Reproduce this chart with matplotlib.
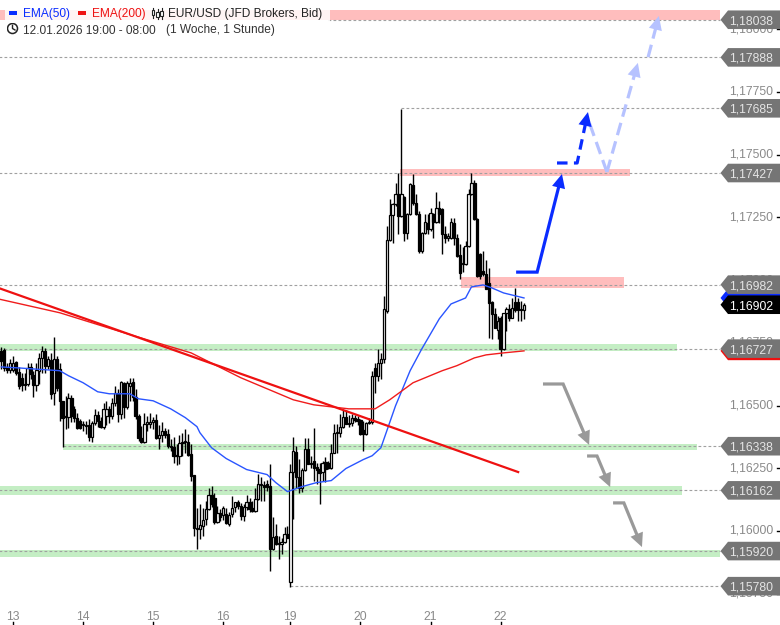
import matplotlib
matplotlib.use("Agg")
import matplotlib.pyplot as plt
from matplotlib.patches import Polygon, Rectangle, Circle, FancyArrowPatch

# EUR/USD 1h candles, 12.01.2026 19:00 - 22.01.2026 08:00
opens = [
    1.16718, 1.16718, 1.16722, 1.16654, 1.16642, 1.16642, 1.16674, 1.16635, 1.16611, 1.16583,
    1.16587, 1.16654, 1.16623, 1.16583, 1.16639, 1.16690, 1.16718, 1.16658, 1.16682, 1.16551,
    1.16686, 1.16646, 1.16519, 1.16456, 1.16456, 1.16531, 1.16487, 1.16452, 1.16440, 1.16424,
    1.16420, 1.16424, 1.16376, 1.16432, 1.16464, 1.16440, 1.16416, 1.16460, 1.16487, 1.16460,
    1.16511, 1.16551, 1.16468, 1.16591, 1.16495, 1.16579, 1.16595, 1.16535, 1.16460, 1.16372,
    1.16356, 1.16428, 1.16428, 1.16436, 1.16444, 1.16372, 1.16384, 1.16400, 1.16388, 1.16340,
    1.16336, 1.16300, 1.16300, 1.16352, 1.16356, 1.16356, 1.16308, 1.16225, 1.16010, 1.16006,
    1.16018, 1.16046, 1.16086, 1.16145, 1.16133, 1.16034, 1.16070, 1.16062, 1.16066, 1.16026,
    1.16066, 1.16094, 1.16117, 1.16101, 1.16058, 1.16094, 1.16117, 1.16090, 1.16078, 1.16129,
    1.16185, 1.16185, 1.16189, 1.16181, 1.15930, 1.15982, 1.15950, 1.15950, 1.15958, 1.15990,
    1.15795, 1.16237, 1.16316, 1.16217, 1.16173, 1.16245, 1.16328, 1.16269, 1.16281, 1.16257,
    1.16249, 1.16237, 1.16277, 1.16273, 1.16253, 1.16312, 1.16392, 1.16392, 1.16416, 1.16456,
    1.16428, 1.16432, 1.16452, 1.16448, 1.16444, 1.16404, 1.16388, 1.16432, 1.16436, 1.16651,
    1.16619, 1.16670, 1.16686, 1.16878, 1.17160, 1.17260, 1.17303, 1.17343, 1.17256, 1.17331,
    1.17188, 1.17264, 1.17379, 1.17307, 1.17264, 1.17116, 1.17188, 1.17228, 1.17204, 1.17264,
    1.17232, 1.17288, 1.17284, 1.17184, 1.17168, 1.17168, 1.17228, 1.17168, 1.17100, 1.17065,
    1.17065, 1.17136, 1.17343, 1.17387, 1.17244, 1.17104, 1.17037, 1.17025, 1.16989, 1.16913,
    1.16866, 1.16802, 1.16850, 1.16726, 1.16870, 1.16886, 1.16850, 1.16913, 1.16913, 1.16886,
    1.16882,
]
closes = [
    1.16678, 1.16678, 1.16650, 1.16642, 1.16670, 1.16670, 1.16631, 1.16579, 1.16583, 1.16587,
    1.16650, 1.16627, 1.16583, 1.16642, 1.16690, 1.16718, 1.16658, 1.16686, 1.16547, 1.16686,
    1.16571, 1.16519, 1.16452, 1.16460, 1.16531, 1.16460, 1.16452, 1.16412, 1.16412, 1.16428,
    1.16424, 1.16376, 1.16432, 1.16464, 1.16440, 1.16416, 1.16487, 1.16487, 1.16460, 1.16511,
    1.16551, 1.16468, 1.16595, 1.16495, 1.16591, 1.16591, 1.16535, 1.16460, 1.16372, 1.16356,
    1.16428, 1.16436, 1.16436, 1.16444, 1.16372, 1.16384, 1.16400, 1.16384, 1.16340, 1.16336,
    1.16300, 1.16304, 1.16352, 1.16356, 1.16360, 1.16304, 1.16221, 1.16010, 1.16006, 1.16022,
    1.16042, 1.16086, 1.16145, 1.16109, 1.16034, 1.16070, 1.16054, 1.16090, 1.16030, 1.16062,
    1.16090, 1.16117, 1.16101, 1.16058, 1.16094, 1.16117, 1.16086, 1.16078, 1.16129, 1.16189,
    1.16189, 1.16177, 1.16177, 1.15930, 1.15978, 1.15950, 1.15954, 1.15958, 1.15990, 1.15974,
    1.16237, 1.16320, 1.16217, 1.16173, 1.16245, 1.16328, 1.16269, 1.16273, 1.16253, 1.16245,
    1.16233, 1.16273, 1.16249, 1.16253, 1.16312, 1.16392, 1.16396, 1.16416, 1.16456, 1.16428,
    1.16432, 1.16452, 1.16444, 1.16440, 1.16388, 1.16388, 1.16432, 1.16436, 1.16619, 1.16619,
    1.16670, 1.16686, 1.16886, 1.17160, 1.17260, 1.17303, 1.17343, 1.17256, 1.17343, 1.17188,
    1.17264, 1.17383, 1.17307, 1.17264, 1.17116, 1.17188, 1.17232, 1.17204, 1.17268, 1.17232,
    1.17288, 1.17264, 1.17184, 1.17168, 1.17176, 1.17232, 1.17168, 1.17096, 1.17029, 1.17069,
    1.17136, 1.17343, 1.17387, 1.17244, 1.17017, 1.17017, 1.17025, 1.16965, 1.16909, 1.16866,
    1.16810, 1.16838, 1.16726, 1.16870, 1.16886, 1.16850, 1.16890, 1.16882, 1.16882, 1.16882,
    1.16901,
]
highs = [
    1.16730, 1.16734, 1.16730, 1.16670, 1.16686, 1.16698, 1.16678, 1.16654, 1.16631, 1.16631,
    1.16670, 1.16670, 1.16639, 1.16670, 1.16710, 1.16738, 1.16730, 1.16698, 1.16710, 1.16774,
    1.16698, 1.16670, 1.16519, 1.16539, 1.16551, 1.16543, 1.16499, 1.16472, 1.16448, 1.16440,
    1.16440, 1.16448, 1.16440, 1.16487, 1.16480, 1.16456, 1.16511, 1.16519, 1.16499, 1.16531,
    1.16579, 1.16567, 1.16599, 1.16595, 1.16599, 1.16611, 1.16611, 1.16567, 1.16468, 1.16420,
    1.16472, 1.16460, 1.16472, 1.16456, 1.16468, 1.16424, 1.16436, 1.16412, 1.16408, 1.16368,
    1.16376, 1.16348, 1.16384, 1.16392, 1.16408, 1.16388, 1.16348, 1.16225, 1.16093, 1.16109,
    1.16090, 1.16121, 1.16173, 1.16181, 1.16153, 1.16101, 1.16086, 1.16101, 1.16090, 1.16074,
    1.16141, 1.16117, 1.16125, 1.16113, 1.16109, 1.16145, 1.16133, 1.16121, 1.16173, 1.16229,
    1.16217, 1.16201, 1.16205, 1.16269, 1.16054, 1.16026, 1.15982, 1.15974, 1.16014, 1.16018,
    1.16269, 1.16376, 1.16340, 1.16289, 1.16253, 1.16372, 1.16372, 1.16300, 1.16412, 1.16273,
    1.16273, 1.16281, 1.16293, 1.16281, 1.16348, 1.16428, 1.16428, 1.16468, 1.16484, 1.16484,
    1.16464, 1.16468, 1.16464, 1.16460, 1.16448, 1.16440, 1.16436, 1.16452, 1.16639, 1.16670,
    1.16726, 1.16710, 1.16937, 1.17216, 1.17323, 1.17307, 1.17387, 1.17427, 1.17682, 1.17335,
    1.17268, 1.17387, 1.17423, 1.17343, 1.17276, 1.17192, 1.17264, 1.17264, 1.17288, 1.17268,
    1.17351, 1.17315, 1.17288, 1.17216, 1.17188, 1.17248, 1.17248, 1.17184, 1.17144, 1.17132,
    1.17156, 1.17363, 1.17427, 1.17399, 1.17248, 1.17108, 1.17116, 1.17081, 1.17049, 1.16917,
    1.16890, 1.16858, 1.16858, 1.16870, 1.16894, 1.16905, 1.16929, 1.16969, 1.16929, 1.16917,
    1.16909,
]
lows = [
    1.16658, 1.16646, 1.16639, 1.16631, 1.16631, 1.16635, 1.16623, 1.16567, 1.16559, 1.16563,
    1.16579, 1.16607, 1.16535, 1.16559, 1.16587, 1.16631, 1.16631, 1.16646, 1.16527, 1.16503,
    1.16559, 1.16440, 1.16336, 1.16408, 1.16412, 1.16436, 1.16436, 1.16408, 1.16408, 1.16400,
    1.16388, 1.16360, 1.16356, 1.16424, 1.16416, 1.16412, 1.16408, 1.16424, 1.16432, 1.16448,
    1.16499, 1.16436, 1.16448, 1.16452, 1.16487, 1.16519, 1.16519, 1.16448, 1.16360, 1.16352,
    1.16352, 1.16400, 1.16412, 1.16408, 1.16368, 1.16328, 1.16356, 1.16372, 1.16332, 1.16320,
    1.16273, 1.16265, 1.16269, 1.16300, 1.16312, 1.16300, 1.16201, 1.15982, 1.15930, 1.15970,
    1.15982, 1.16022, 1.16082, 1.16097, 1.16026, 1.16030, 1.16038, 1.16042, 1.16026, 1.16018,
    1.16054, 1.16074, 1.16086, 1.16042, 1.16038, 1.16082, 1.16074, 1.16074, 1.16074, 1.16125,
    1.16121, 1.16121, 1.16161, 1.15839, 1.15926, 1.15946, 1.15890, 1.15910, 1.15954, 1.15974,
    1.15775, 1.16046, 1.16173, 1.16153, 1.16157, 1.16241, 1.16269, 1.16253, 1.16201, 1.16189,
    1.16109, 1.16201, 1.16197, 1.16249, 1.16249, 1.16312, 1.16312, 1.16376, 1.16412, 1.16428,
    1.16416, 1.16420, 1.16436, 1.16424, 1.16384, 1.16320, 1.16384, 1.16428, 1.16428, 1.16551,
    1.16599, 1.16607, 1.16670, 1.16870, 1.17156, 1.17148, 1.17295, 1.17184, 1.17252, 1.17156,
    1.17164, 1.17260, 1.17299, 1.17260, 1.17108, 1.17108, 1.17184, 1.17184, 1.17196, 1.17168,
    1.17228, 1.17228, 1.17104, 1.17148, 1.17156, 1.17164, 1.17140, 1.17092, 1.17005, 1.17033,
    1.17061, 1.17132, 1.17339, 1.17240, 1.17013, 1.17005, 1.17017, 1.16965, 1.16770, 1.16766,
    1.16810, 1.16766, 1.16698, 1.16722, 1.16798, 1.16838, 1.16850, 1.16874, 1.16838, 1.16838,
    1.16846,
]

ema50_bars = [1, 7, 12, 21, 24, 29, 34, 38, 45, 48, 53, 59, 64, 68, 69, 73, 78, 85, 92, 95,
              99, 104, 109, 114, 119, 125, 128, 131, 136, 141, 145, 151, 155, 160, 162, 166,
              169, 173, 180]
ema50 = [1.16654, 1.16650, 1.16646, 1.16639, 1.16619, 1.16591, 1.16555, 1.16547, 1.16547,
         1.16527, 1.16519, 1.16487, 1.16452, 1.16416, 1.16392, 1.16332, 1.16289, 1.16245,
         1.16225, 1.16193, 1.16157, 1.16177, 1.16193, 1.16201, 1.16249, 1.16285, 1.16300,
         1.16332, 1.16499, 1.16639, 1.16726, 1.16846, 1.16905, 1.16929, 1.16973, 1.16981,
         1.16969, 1.16949, 1.16929]
ema200_bars = [0, 21, 42, 51, 66, 83, 101, 108, 120, 129, 134, 142, 152, 157, 163, 167, 173, 180]
ema200 = [1.16925, 1.16870, 1.16794, 1.16762, 1.16710, 1.16611, 1.16523, 1.16503, 1.16487,
          1.16487, 1.16523, 1.16591, 1.16639, 1.16659, 1.16690, 1.16702, 1.16710, 1.16718]

trend_bars = [0, 178]
trend_prices = [1.16969, 1.16235]

# zones: bar start, bar end, price low, price high
red_zones = [(0, 247, 1.18037, 1.18077), (137.5, 216.3, 1.17415, 1.17442),
             (158.4, 214.2, 1.16969, 1.17013)]
green_zones = [(0, 232.4, 1.16716, 1.16745), (22.1, 239.2, 1.16323, 1.16347),
               (0, 234.1, 1.16143, 1.16179), (0, 247, 1.15896, 1.15924)]

# levels: price, first bar of the dotted line
levels = [1.18038, 1.17888, 1.17685, 1.17427, 1.16982, 1.16727, 1.16338, 1.16162, 1.15920, 1.15780]
level_starts = [113, 0, 138, 0, 0, 0, 22, 0, 0, 100]
level_texts = ["1,18038", "1,17888", "1,17685", "1,17427", "1,16982",
               "1,16727", "1,16338", "1,16162", "1,15920", "1,15780"]
last_price = 1.16902
last_text = "1,16902"

price_ticks = [1.18, 1.1775, 1.175, 1.1725, 1.17, 1.1675, 1.165, 1.1625, 1.16, 1.1575]
price_labels = ["1,18000", "1,17750", "1,17500", "1,17250", "1,17000",
                "1,16750", "1,16500", "1,16250", "1,16000", "1,15750"]
day_bars = [5, 29, 53, 77, 100, 124, 148, 172]
day_labels = ["13", "14", "15", "16", "19", "20", "21", "22"]

BLUE = "#0a2cff"
LIGHT_BLUE = "#b6c2ff"
GREY = "#999999"
RED = "#ee1111"
W, H = 780, 625
PX_X = 2.92      # pixels per bar
PX_Y = 25086     # pixels per price unit


def arrow(ax, xs, ys, color, dashes=None, head=True):
    """Elbow line, by default with a filled head at the last point."""
    dx = (xs[-1] - xs[-2]) * PX_X
    dy = (ys[-1] - ys[-2]) * PX_Y
    length = (dx * dx + dy * dy) ** 0.5
    cut = 10 / length if head else 0
    line_x = list(xs[:-1]) + [xs[-1] - (xs[-1] - xs[-2]) * cut]
    line_y = list(ys[:-1]) + [ys[-1] - (ys[-1] - ys[-2]) * cut]
    line, = ax.plot(line_x, line_y, color=color, lw=2.3, zorder=6,
                    solid_joinstyle="miter", solid_capstyle="butt")
    if dashes:
        line.set_dashes(dashes)
    if head:
        tip = FancyArrowPatch((xs[-2], ys[-2]), (xs[-1], ys[-1]),
                              arrowstyle="-|>,head_length=1.0,head_width=0.48",
                              mutation_scale=10, lw=0, color=color,
                              shrinkA=0, shrinkB=0, zorder=7)
        ax.add_patch(tip)


def price_tag(ax, price, color, text=None, text_color="#e4e4e4", z=9):
    half = 9.3 / PX_Y
    pts = [(720.5 / W, price), (728 / W, price + half), (1, price + half),
           (1, price - half), (728 / W, price - half)]
    ax.add_patch(Polygon(pts, closed=True, fc=color, ec="none", zorder=z,
                         transform=ax.get_yaxis_transform(), clip_on=False))
    if text:
        ax.text(729 / W, price, text, color=text_color, fontsize=8.7, va="center_baseline",
                ha="left", zorder=z + 0.5, transform=ax.get_yaxis_transform())


def main():
    plt.rcParams["font.family"] = ["Liberation Sans", "DejaVu Sans"]
    fig = plt.figure(figsize=(W / 100, H / 100), dpi=100)
    ax = fig.add_axes([0, 0, 1, 1])
    ax.set_xlim(0.548, 267.67)
    ax.set_ylim(1.16 - 94 / PX_Y, 1.16 + 531 / PX_Y)
    ax.axis("off")

    # bands
    for x0, x1, p0, p1 in red_zones:
        ax.add_patch(Rectangle((x0, p0), x1 - x0, p1 - p0, fc="#ffbdbd", ec="none", zorder=2))
    for x0, x1, p0, p1 in green_zones:
        ax.add_patch(Rectangle((x0, p0), x1 - x0, p1 - p0, fc="#c4eec4", ec="none", zorder=2))

    # dotted levels
    for price, start in zip(levels, level_starts):
        ax.plot([start, 247], [price, price], color="#a0a0a0", lw=0.8,
                dashes=(2.5, 2), zorder=3)

    # candles
    for i in range(len(opens)):
        o, h, l, c = opens[i], highs[i], lows[i], closes[i]
        ax.plot([i, i], [l, h], color="black", lw=1, zorder=4, solid_capstyle="butt")
        body_low = min(o, c)
        up = c >= o
        ax.add_patch(Rectangle((i - 0.4, body_low), 0.8, max(abs(c - o), 0.00002),
                               fc="white" if up else "black", ec="black", lw=0.9, zorder=4.5))

    ax.plot(ema50_bars, ema50, color="#2a55ff", lw=1, zorder=5)
    ax.plot(ema200_bars, ema200, color="#f01c1c", lw=1, zorder=5)
    ax.plot(trend_bars, trend_prices, color=RED, lw=1.6, zorder=5.5)

    # scenario arrows
    arrow(ax, [208.4, 202.3], [1.17431, 1.17630], LIGHT_BLUE, dashes=(4, 2), head=False)
    arrow(ax, [208.4, 219.0], [1.17431, 1.17866], LIGHT_BLUE, dashes=(4, 2))
    arrow(ax, [222.5, 226.2], [1.17889, 1.18053], LIGHT_BLUE, dashes=(4, 2))
    arrow(ax, [177.3, 184.5, 193.0], [1.17032, 1.17032, 1.17423], BLUE)
    arrow(ax, [191.3, 198.2, 201.9], [1.17467, 1.17467, 1.17670], BLUE, dashes=(3.3, 2))
    arrow(ax, [186.5, 193.4, 202.3], [1.16586, 1.16586, 1.16343], GREY)
    arrow(ax, [201.6, 205.0, 209.5], [1.16299, 1.16299, 1.16175], GREY)
    arrow(ax, [210.5, 214.2, 220.4], [1.16112, 1.16112, 1.15936], GREY)

    # right scale
    for price, label in zip(price_ticks, price_labels):
        ax.text(729 / W, price + 1.5 / PX_Y, label, color="#8a8a8a", fontsize=8.7,
                va="center_baseline", ha="left", zorder=8, transform=ax.get_yaxis_transform())
        ax.plot([777 / W, 1], [price, price], color="black", lw=1, zorder=8,
                transform=ax.get_yaxis_transform())

    price_tag(ax, ema50[-1], BLUE, z=8.5)
    price_tag(ax, ema200[-1], RED, z=8.5)
    for price, text in zip(levels, level_texts):
        price_tag(ax, price, "#757575", text)
    price_tag(ax, last_price, "black", last_text, text_color="white", z=9.2)

    # bottom scale
    for bar, label in zip(day_bars, day_labels):
        ax.text(bar, 9.5 / H, label, color="#8a8a8a", fontsize=8.7, ha="center",
                va="center_baseline", transform=ax.get_xaxis_transform())
        ax.plot([bar, bar], [0, 3 / H], color="black", lw=1, transform=ax.get_xaxis_transform())

    # legend block top left
    def fx(px):
        return px / W

    def fy(py):
        return 1 - py / H

    ta = ax.transAxes
    ax.add_patch(Rectangle((fx(5), fy(22)), 325 / W, 14 / H, fc="white", alpha=0.85, ec="none",
                           transform=ta, zorder=10))
    ax.add_patch(Rectangle((fx(9), fy(14.5)), 8 / W, 3 / H, fc=BLUE, ec="none", transform=ta, zorder=11))
    ax.add_patch(Rectangle((fx(78), fy(14.5)), 8 / W, 3 / H, fc=RED, ec="none", transform=ta, zorder=11))
    ax.text(fx(23), fy(13), "EMA(50)", color=BLUE, fontsize=8.6, va="center_baseline",
            transform=ta, zorder=11)
    ax.text(fx(92), fy(13), "EMA(200)", color=RED, fontsize=8.6, va="center_baseline",
            transform=ta, zorder=11)
    ax.text(fx(168), fy(13), "EUR/USD (JFD Brokers, Bid)", color="#222222", fontsize=8.6,
            va="center_baseline", transform=ta, zorder=11)
    ax.text(fx(23), fy(29), "12.01.2026 19:00 - 08:00", color="#333333", fontsize=8.6,
            va="center_baseline", transform=ta, zorder=11)
    ax.text(fx(166.5), fy(29), "(1 Woche, 1 Stunde)", color="#333333", fontsize=8.6,
            va="center_baseline", transform=ta, zorder=11)

    # little candle icon
    for px, top, bottom, b0, b1 in [(153, 8, 18, 10, 15), (157.5, 9, 19, 12, 17), (161.5, 8, 19, 11, 16)]:
        ax.plot([fx(px), fx(px)], [fy(top), fy(bottom)], color="#222222", lw=0.8, transform=ta, zorder=11)
        ax.add_patch(Rectangle((fx(px - 1.3), fy(b1)), 2.6 / W, (b1 - b0) / H, fc="white",
                               ec="#222222", lw=0.8, transform=ta, zorder=11.5))

    # clock icon
    icon = fig.add_axes([6.5 / W, 1 - 34.5 / H, 12 / W, 12 / H])
    icon.set_xlim(0, 12)
    icon.set_ylim(12, 0)
    icon.axis("off")
    icon.add_patch(Circle((6, 6), 5, fc="white", ec="#222222", lw=1.1))
    icon.plot([6, 6, 8.5], [2.8, 6, 7.5], color="#222222", lw=1)

    fig.savefig("out.png", dpi=100)


if __name__ == "__main__":
    main()
